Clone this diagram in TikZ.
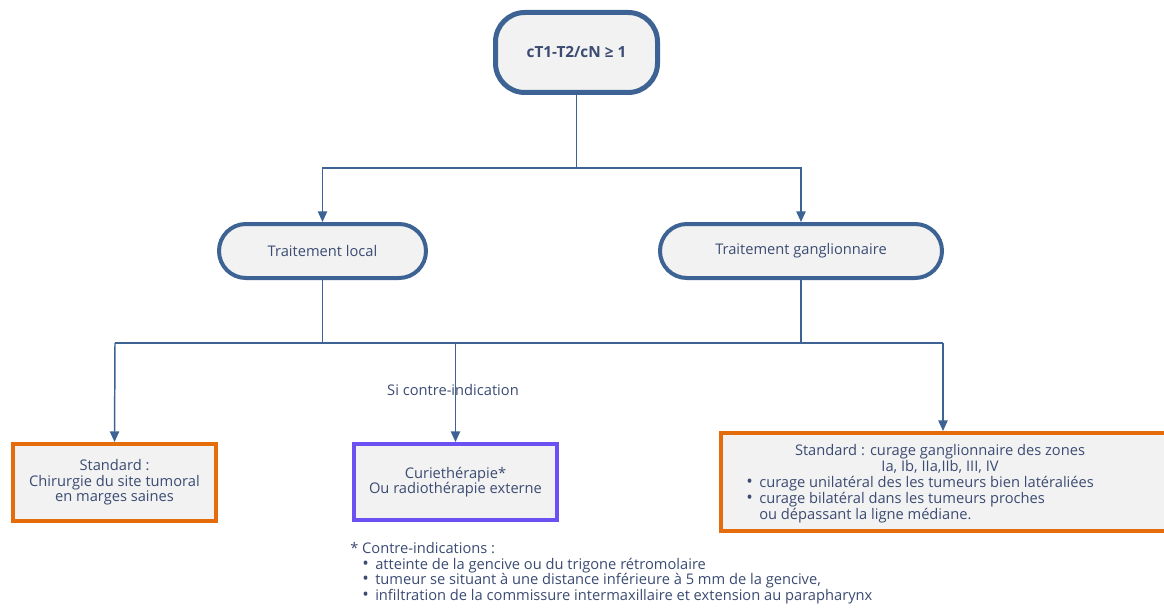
\documentclass[tikz,border=0pt]{standalone}
\usepackage{fontspec}
\setmainfont{Open Sans}
\usetikzlibrary{arrows.meta}
\definecolor{lineblue}{HTML}{3D6394}
\definecolor{txt}{HTML}{3B4B72}
\definecolor{boxfill}{HTML}{F2F2F2}
\definecolor{orng}{HTML}{E46C0A}
\definecolor{purp}{HTML}{6B50F2}
\tikzset{
  conn/.style={draw=lineblue, line width=1.1pt},
  arr/.style={conn, -{Triangle[width=7pt,length=8pt]}},
  topbox/.style={draw=lineblue, fill=boxfill, line width=3.75pt, rounded corners=22pt, text=txt, font=\bfseries\fontsize{11.5}{12}\selectfont, inner sep=0pt},
  pill/.style={draw=lineblue, fill=boxfill, line width=3pt, rounded corners=20.2pt, text=txt, font=\fontsize{11}{12}\selectfont, inner sep=0pt, minimum height=40.5pt},
  sqbox/.style={fill=boxfill, line width=3pt, text=txt, font=\fontsize{11}{11.6}\selectfont, align=center, inner sep=0pt},
  plain/.style={text=txt, font=\fontsize{11}{11.6}\selectfont, inner sep=0pt}
}
\newcommand{\blt}{\makebox[9.75pt][l]{\fontsize{13}{11}\selectfont •}}
\begin{document}
\begin{tikzpicture}[x=0.75pt,y=-0.75pt]
\useasboundingbox[fill=white] (0,0) rectangle (1164,610);
% nodes
\node[topbox, minimum width=121.5pt, minimum height=60pt] (top) at (576.5,52.5) {cT1-T2/cN ≥ 1};
\node[pill, minimum width=155.25pt] (tl) at (322.5,251) {Traitement local};
\node[pill, minimum width=211.5pt] (tg) at (801,251) {Traitement ganglionnaire};
\node[sqbox, draw=orng, minimum width=152.25pt, minimum height=57.75pt] (lb) at (114.5,482.5) {Standard :\\Chirurgie du site tumoral\\en marges saines};
\node[sqbox, draw=purp, minimum width=152.25pt, minimum height=57pt] (mb) at (455.5,482) {Curiethérapie*\\Ou radiothérapie externe};
\node[sqbox, draw=orng, minimum width=333.75pt, minimum height=73.5pt] (rb) at (943.5,482) {};
\node[plain, align=center, font=\fontsize{11}{12}\selectfont] (rbhead) at (940,459) {Standard : curage ganglionnaire des zones\\Ia, Ib, IIa,IIb, III, IV};
\node[plain, align=left, anchor=north west, font=\fontsize{11}{12}\selectfont] (rblist) at (746,475.5) {\blt curage unilatéral des les tumeurs bien latéraliées\\\blt curage bilatéral dans les tumeurs proches\\\hspace*{9.75pt}ou dépassant la ligne médiane.};
\node[plain, align=left, anchor=north west] (foot) at (350,542.5) {* Contre-indications :\\\hspace*{9pt}\blt atteinte de la gencive ou du trigone rétromolaire\\\hspace*{9pt}\blt tumeur se situant à une distance inférieure à 5 mm de la gencive,\\\hspace*{9pt}\blt infiltration de la commissure intermaxillaire et extension au parapharynx};
% junctions
\coordinate (j1) at (576.5,168);
\coordinate (hl) at (115,343);
\coordinate (hr) at (943,343);
% connectors
\draw[conn] (top.south) -- (j1);
\draw[arr] (j1) -| (tl.north);
\draw[arr] (j1) -| (tg.north);
\draw[conn] (tl.south) -- (tl.south |- hl);
\draw[conn] (tg.south) -- (tg.south |- hl);
\draw[conn] (hl) -- (hr);
\draw[arr] (hl) -- (lb.north);
\draw[arr] (hr) -- (rb.north -| hr);
\draw[arr] (mb.north |- hl) -- (mb.north);
\node[plain] (si) at (453,390) {Si contre-indication};
\end{tikzpicture}
\end{document}
